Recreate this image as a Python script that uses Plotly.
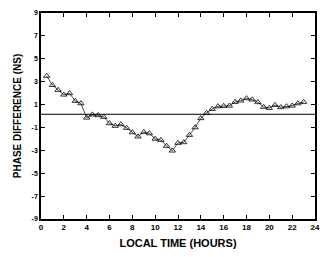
import plotly.graph_objects as go

hours = [0.5, 1.0, 1.5, 2.0, 2.5, 3.0, 3.5, 4.0, 4.5, 5.0, 5.5, 6.0, 6.5, 7.0, 7.5, 8.0,
         8.5, 9.0, 9.5, 10.0, 10.5, 11.0, 11.5, 12.0, 12.5, 13.0, 13.5, 14.0, 14.5, 15.0,
         15.5, 16.0, 16.5, 17.0, 17.5, 18.0, 18.5, 19.0, 19.5, 20.0, 20.5, 21.0, 21.5,
         22.0, 22.5, 23.0]
phase = [3.5, 2.7, 2.27, 1.86, 1.98, 1.31, 1.1, -0.15, 0.12, 0.06, -0.09, -0.64, -0.87,
         -0.73, -1.05, -1.43, -1.8, -1.4, -1.52, -2.0, -2.1, -2.62, -3.03, -2.36, -2.3,
         -1.66, -1.0, -0.2, 0.26, 0.61, 0.84, 0.87, 0.9, 1.22, 1.34, 1.54, 1.43, 1.2,
         0.79, 0.7, 0.96, 0.76, 0.84, 0.9, 1.1, 1.22]
ref_x = [0, 24]
ref_y = [0.15, 0.15]
xticks = list(range(0, 25, 2))
yticks = list(range(-9, 10, 2))

fig = go.Figure()
fig.add_trace(go.Scatter(x=ref_x, y=ref_y, mode="lines",
                         line=dict(color="black", width=1), showlegend=False))
fig.add_trace(go.Scatter(x=hours, y=phase, mode="lines+markers",
                         line=dict(color="black", width=0.7),
                         marker=dict(symbol="triangle-up-open", size=5.5, color="black",
                                     line=dict(width=0.8)),
                         showlegend=False))

fam = "Liberation Sans, Arial, sans-serif"
# page body has an 8px margin, so the figure is shrunk and margins are offset by 8px
fig.update_layout(
    width=326, height=249,
    margin=dict(l=33, r=19, t=5, b=38, autoexpand=False),
    paper_bgcolor="white", plot_bgcolor="white",
    font=dict(size=9, family=fam, color="black"),
    xaxis=dict(range=[0, 24], tickvals=xticks, ticktext=[f"<b>{t}</b>" for t in xticks],
               ticks="inside", ticklen=4, tickwidth=1, tickcolor="black",
               showline=True, linecolor="black", linewidth=1.5, mirror="ticks",
               showgrid=False, zeroline=False, automargin=False,
               tickfont=dict(size=8, family=fam, color="black"),
               title=dict(text="<b>LOCAL TIME (HOURS)</b>", font=dict(size=11, family=fam, color="black"), standoff=8)),
    yaxis=dict(range=[-9, 9], tickvals=yticks, ticktext=[f"<b>{t}</b>" for t in yticks],
               ticks="inside", ticklen=4, tickwidth=1, tickcolor="black",
               showline=True, linecolor="black", linewidth=1.5, mirror="ticks",
               showgrid=False, zeroline=False, automargin=False,
               tickfont=dict(size=7, family=fam, color="black"),
               title=dict(text="<b>PHASE DIFFERENCE (NS)</b>", font=dict(size=10, family=fam, color="black"), standoff=8)),
)
fig.write_html("out.html")
